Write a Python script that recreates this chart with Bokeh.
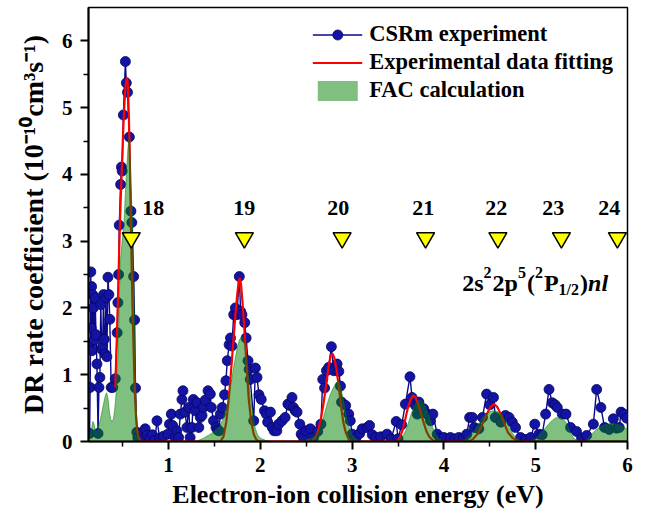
from bokeh.plotting import figure
from bokeh.models import Range1d, FixedTicker, Legend, LegendItem, Label
from bokeh.embed import file_html
from bokeh.resources import INLINE
from bokeh.core.properties import value

# ---------------- data ----------------
exp_e = [0.140, 0.146, 0.150, 0.153, 0.157, 0.162, 0.167, 0.172, 0.180, 0.190,
         0.200, 0.210, 0.220, 0.232, 0.242, 0.252, 0.262, 0.272, 0.282, 0.292,
         0.300, 0.308, 0.318, 0.328, 0.340, 0.350, 0.360, 0.375, 0.392, 0.420,
         0.440, 0.448, 0.456, 0.463, 0.478, 0.487, 0.495, 0.508, 0.530, 0.540,
         0.553, 0.573, 0.590, 0.600, 0.620, 0.630, 0.640, 0.655, 0.665, 0.700,
         0.725, 0.746, 0.765, 0.795, 0.825, 0.850, 0.874, 0.905, 0.945, 0.993,
         1.010, 1.030, 1.045, 1.070, 1.090, 1.110, 1.128, 1.146, 1.157, 1.180,
         1.200, 1.220, 1.235, 1.255, 1.270, 1.290, 1.310, 1.330, 1.346, 1.365,
         1.380, 1.400, 1.430, 1.455, 1.466, 1.490, 1.517, 1.535, 1.550, 1.564,
         1.585, 1.610, 1.625, 1.640, 1.660, 1.675, 1.690, 1.710, 1.728, 1.745,
         1.771, 1.785, 1.800, 1.830, 1.845, 1.866, 1.878, 1.890, 1.928, 1.946,
         1.964, 1.985, 2.010, 2.045, 2.066, 2.080, 2.110, 2.130, 2.150, 2.180,
         2.200, 2.236, 2.270, 2.300, 2.320, 2.345, 2.360, 2.380, 2.400, 2.430,
         2.445, 2.470, 2.500, 2.545, 2.580, 2.625, 2.660, 2.680, 2.700, 2.720,
         2.745, 2.774, 2.800, 2.836, 2.855, 2.873, 2.885, 2.930, 2.963, 2.980,
         3.000, 3.040, 3.083, 3.110, 3.163, 3.190, 3.220, 3.255, 3.310, 3.380,
         3.425, 3.480, 3.500, 3.540, 3.580, 3.630, 3.653, 3.690, 3.710, 3.727,
         3.745, 3.780, 3.818, 3.854, 3.880, 3.927, 3.960, 4.000, 4.070, 4.120,
         4.163, 4.210, 4.250, 4.280, 4.310, 4.330, 4.380, 4.420, 4.465, 4.500,
         4.540, 4.560, 4.620, 4.670, 4.710, 4.745, 4.780, 4.835, 4.890, 4.945,
         4.990, 5.035, 5.070, 5.108, 5.145, 5.180, 5.210, 5.235, 5.290, 5.330,
         5.380, 5.445, 5.500, 5.555, 5.628, 5.664, 5.710, 5.750, 5.800, 5.846,
         5.880, 5.910, 5.930, 5.960, 5.990]
exp_r = [0.12, 0.81, 1.45, 2.54, 1.70, 2.32, 1.36, 2.20, 2.00, 1.52,
         2.15, 1.60, 1.16, 0.12, 0.81, 0.96, 2.05, 1.38, 1.43, 2.20,
         1.53, 1.31, 2.15, 1.27, 2.46, 2.20, 1.83, 0.81, 0.81, 0.94,
         1.63, 2.08, 2.50, 3.24, 3.85, 4.11, 4.05, 4.89, 5.69, 5.37,
         5.23, 4.56, 3.45, 3.28, 2.47, 1.82, 0.80, 0.14, 0.06, 0.11,
         0.05, 0.19, 0.09, 0.04, 0.10, 0.02, 0.31, 0.05, 0.08, 0.11,
         0.26, 0.41, 0.24, 0.06, 0.16, 0.06, 0.41, 0.63, 0.76, 0.44,
         0.21, 0.51, 0.06, 0.21, 0.63, 0.46, 0.58, 0.21, 0.36, 0.39,
         0.51, 0.62, 0.76, 0.71, 0.51, 0.31, 0.21, 0.17, 0.16, 0.41,
         0.51, 0.70, 0.91, 1.21, 1.45, 1.55, 1.43, 1.90, 2.00, 1.90,
         2.47, 1.95, 1.90, 1.78, 1.55, 1.21, 1.08, 0.93, 0.31, 1.10,
         0.96, 0.70, 0.63, 0.46, 0.41, 0.29, 0.44, 0.21, 0.16, 0.16,
         0.26, 0.31, 0.36, 0.56, 0.54, 0.66, 0.51, 0.46, 0.44, 0.26,
         0.11, 0.06, 0.16, 0.19, 0.06, 0.15, 0.26, 0.93, 0.80, 1.06,
         1.11, 1.42, 1.06, 1.16, 1.05, 0.83, 0.59, 0.54, 0.41, 0.31,
         0.11, 0.05, 0.12, 0.19, 0.21, 0.24, 0.10, 0.06, 0.07, 0.11,
         0.04, 0.30, 0.04, 0.25, 0.56, 0.97, 0.66, 0.54, 0.41, 0.59,
         0.51, 0.49, 0.41, 0.31, 0.41, 0.11, 0.05, 0.06, 0.06, 0.04,
         0.06, 0.05, 0.11, 0.36, 0.36, 0.21, 0.19, 0.36, 0.71, 0.55,
         0.66, 0.36, 0.29, 0.39, 0.36, 0.29, 0.21, 0.06, 0.03, 0.06,
         0.26, 0.11, 0.10, 0.41, 0.78, 0.58, 0.55, 0.51, 0.41, 0.41,
         0.21, 0.15, 0.05, 0.09, 0.26, 0.78, 0.51, 0.21, 0.18, 0.34,
         0.20, 0.21, 0.44, 0.41, 0.35]

fit_e = [0.420, 0.438, 0.450, 0.463, 0.476, 0.490, 0.503, 0.517, 0.530, 0.542,
         0.550, 0.558, 0.566, 0.575, 0.583, 0.591, 0.600, 0.610, 0.620, 0.628,
         0.637, 0.648, 0.660, 0.674, 0.690, 0.710,
         1.565, 1.600, 1.630, 1.660, 1.690, 1.720, 1.745, 1.762, 1.775, 1.790,
         1.805, 1.830, 1.850, 1.873, 1.900, 1.930, 1.960, 1.990,
         2.560, 2.600, 2.630, 2.660, 2.690, 2.720, 2.745, 2.765, 2.785, 2.805,
         2.830, 2.855, 2.880, 2.905, 2.930, 2.960, 2.990,
         3.490, 3.520, 3.550, 3.580, 3.610, 3.640, 3.665, 3.690, 3.720, 3.750,
         3.780, 3.810, 3.840, 3.880, 3.920,
         4.270, 4.320, 4.370, 4.420, 4.470, 4.510, 4.545, 4.580, 4.620, 4.660,
         4.700, 4.750, 4.800, 4.840, 6.000]
fit_r = [0.81, 1.60, 2.20, 2.90, 3.50, 4.05, 4.55, 5.00, 5.30, 5.43,
         5.45, 5.30, 4.95, 4.45, 3.85, 3.15, 2.50, 1.85, 1.36, 0.95,
         0.61, 0.32, 0.15, 0.06, 0.02, 0.00,
         0.00, 0.08, 0.30, 0.70, 1.21, 1.75, 2.15, 2.38, 2.45, 2.35,
         2.10, 1.60, 1.15, 0.65, 0.30, 0.10, 0.02, 0.00,
         0.00, 0.06, 0.16, 0.34, 0.58, 0.88, 1.13, 1.28, 1.32, 1.26,
         1.08, 0.82, 0.52, 0.28, 0.14, 0.04, 0.00,
         0.00, 0.06, 0.17, 0.34, 0.52, 0.64, 0.69, 0.66, 0.56, 0.42,
         0.28, 0.15, 0.07, 0.02, 0.00,
         0.00, 0.04, 0.12, 0.26, 0.42, 0.52, 0.56, 0.52, 0.41, 0.26,
         0.13, 0.05, 0.01, 0.00, 0.00]

fac_e = [0.128, 0.145, 0.160, 0.175, 0.185, 0.200, 0.210, 0.230, 0.260, 0.290,
         0.310, 0.325, 0.340, 0.355, 0.370, 0.385, 0.400, 0.415, 0.430, 0.445,
         0.455, 0.465, 0.478, 0.495, 0.515, 0.540, 0.558, 0.570, 0.582, 0.595,
         0.610, 0.620, 0.628, 0.636, 0.644, 0.652, 0.662, 0.675, 0.695, 0.720,
         1.300, 1.380, 1.455, 1.520, 1.560, 1.600, 1.640, 1.670, 1.690, 1.720,
         1.745, 1.770, 1.800, 1.820, 1.840, 1.860, 1.875, 1.890, 1.910, 1.930,
         1.945, 1.970, 2.000, 2.070, 2.100,
         2.420, 2.500, 2.560, 2.600, 2.640, 2.670, 2.700, 2.730, 2.760, 2.790,
         2.820, 2.850, 2.870, 2.890, 2.910, 2.930, 2.950, 2.970, 3.000, 3.030,
         3.070, 3.100,
         3.470, 3.510, 3.540, 3.565, 3.595, 3.620, 3.645, 3.670, 3.700, 3.740,
         3.770, 3.800, 3.830, 3.855, 3.880, 3.910, 3.940, 3.980, 4.000,
         4.180, 4.220, 4.280, 4.330, 4.380, 4.420, 4.470, 4.530, 4.580, 4.620,
         4.670, 4.710, 4.750, 4.780, 4.820, 4.860,
         4.930, 4.970, 5.020, 5.060, 5.110, 5.160, 5.210, 5.250, 5.290, 5.330,
         5.360, 5.390, 5.420, 5.460, 5.500,
         5.530, 5.580, 5.630, 5.680, 5.740, 5.800, 5.850, 5.900, 5.950, 6.000]
fac_r = [0.00, 0.06, 0.18, 0.30, 0.28, 0.18, 0.14, 0.18, 0.35, 0.55,
         0.68, 0.73, 0.65, 0.45, 0.33, 0.30, 0.34, 0.50, 0.75, 1.15,
         1.60, 2.25, 2.75, 3.00, 3.30, 4.00, 4.40, 4.55, 4.25, 3.70,
         3.20, 2.50, 1.80, 1.20, 0.70, 0.38, 0.18, 0.07, 0.02, 0.00,
         0.00, 0.05, 0.11, 0.17, 0.23, 0.36, 0.56, 0.78, 0.95, 1.20,
         1.38, 1.52, 1.57, 1.50, 1.34, 1.12, 0.90, 0.70, 0.50, 0.30,
         0.20, 0.10, 0.05, 0.01, 0.00,
         0.00, 0.02, 0.05, 0.09, 0.17, 0.28, 0.42, 0.57, 0.70, 0.79,
         0.87, 0.91, 0.85, 0.72, 0.58, 0.42, 0.30, 0.20, 0.10, 0.05,
         0.01, 0.00,
         0.00, 0.02, 0.06, 0.11, 0.20, 0.31, 0.42, 0.51, 0.58, 0.62,
         0.58, 0.51, 0.41, 0.31, 0.20, 0.11, 0.05, 0.01, 0.00,
         0.00, 0.02, 0.08, 0.16, 0.26, 0.36, 0.43, 0.46, 0.45, 0.41,
         0.31, 0.21, 0.12, 0.06, 0.02, 0.00,
         0.00, 0.02, 0.07, 0.13, 0.21, 0.29, 0.35, 0.36, 0.34, 0.29,
         0.19, 0.10, 0.04, 0.01, 0.00,
         0.00, 0.06, 0.14, 0.20, 0.24, 0.27, 0.27, 0.25, 0.22, 0.18]

series_n = ["18", "19", "20", "21", "22", "23", "24"]
series_marker_e = [0.594, 1.826, 2.891, 3.800, 4.588, 5.280, 5.890]
series_label_e = [0.834, 1.826, 2.850, 3.775, 4.570, 5.190, 5.800]
marker_level = 3.05
label_level = 3.50

x_ticks = [1, 2, 3, 4, 5, 6]
x_minor = [0.5, 1.5, 2.5, 3.5, 4.5, 5.5]
y_ticks = [0, 1, 2, 3, 4, 5, 6]
y_minor = [0.5, 1.5, 2.5, 3.5, 4.5, 5.5]

FONT = "Liberation Serif"

# ---------------- figure ----------------
p = figure(width=637, height=512, output_backend="svg", toolbar_location=None,
           x_range=Range1d(0.128, 6.0), y_range=Range1d(0, 6.5),
           min_border_left=88, min_border_right=10, min_border_top=7,
           min_border_bottom=71)
p.grid.visible = False
p.outline_line_color = "black"
p.outline_line_width = 1.5
p.background_fill_color = "white"
p.border_fill_color = "white"

exp_line = p.line(exp_e, exp_r, line_color="#0a0a8a", line_width=1.4)
exp_pts = p.scatter(exp_e, exp_r, size=10, fill_color="#1414a4",
                    line_color="#06065e", line_width=0.8)
fit_line = p.line(fit_e, fit_r, line_color="red", line_width=2.2)
fac_area = p.varea(x=fac_e, y1=0, y2=fac_r, fill_color="green", fill_alpha=0.5)
p.line(fac_e, fac_r, line_color="green", line_alpha=0.5, line_width=1)

p.scatter(x=series_marker_e, y=[marker_level] * len(series_marker_e),
          marker="inverted_triangle", size=18, fill_color="yellow",
          line_color="black", line_width=1.5)
p.text(x=series_label_e, y=[label_level] * len(series_label_e), text=series_n,
       text_font=value(FONT), text_font_style="bold", text_font_size="22px",
       text_align="center", text_baseline="middle", text_color="black")

# axes
for ax in (p.xaxis[0], p.yaxis[0]):
    ax.axis_line_width = 2
    ax.axis_line_color = "black"
    ax.major_tick_line_width = 2
    ax.minor_tick_line_width = 1.5
    ax.major_tick_in = 0
    ax.major_tick_out = 8
    ax.minor_tick_in = 0
    ax.minor_tick_out = 5
    ax.major_label_text_font = FONT
    ax.major_label_text_font_style = "bold"
    ax.major_label_text_font_size = "21px"
    ax.major_label_text_color = "black"
    ax.axis_label_text_font = FONT
    ax.axis_label_text_font_style = "bold"
    ax.axis_label_text_color = "black"

p.xaxis.axis_label_text_font_size = "26px"
p.yaxis.axis_label_text_font_size = "28px"
p.xaxis.ticker = FixedTicker(ticks=x_ticks, minor_ticks=x_minor)
p.yaxis.ticker = FixedTicker(ticks=y_ticks, minor_ticks=y_minor)
p.xaxis.axis_label = "Electron-ion collision energy (eV)"
p.yaxis.axis_label = "DR rate coefficient (10\u207b\u00b9\u2070cm\u00b3s\u207b\u00b9)"
p.xaxis.major_label_standoff = 8
p.yaxis.major_label_standoff = 8
p.xaxis.axis_label_standoff = 5
p.yaxis.axis_label_standoff = 10

# legend
legend = Legend(items=[
    LegendItem(label="CSRm experiment", renderers=[exp_line, exp_pts]),
    LegendItem(label="Experimental data fitting", renderers=[fit_line]),
    LegendItem(label="FAC calculation", renderers=[fac_area]),
], location="top_right")
legend.border_line_color = None
legend.background_fill_alpha = 0
legend.margin = 14
legend.padding = 13
legend.spacing = 2
legend.glyph_width = 50
legend.glyph_height = 25
legend.label_height = 25
legend.label_standoff = 7
legend.label_text_font = FONT
legend.label_text_font_style = "bold"
legend.label_text_font_size = "22.5px"
legend.label_text_color = "black"
p.add_layout(legend)

# configuration annotation 2s^2 2p^5 (^2P_1/2) nl
TB = {'2': 500, 's': 389, 'p': 556, '5': 500, '(': 333, 'P': 611,
      '1': 500, '/': 278, ')': 333, 'n': 556, 'l': 278}
F, S = 24, 16
pieces = [("2s", F, "bold", 0), ("2", S, "bold", 10), ("2p", F, "bold", 0),
          ("5", S, "bold", 10), ("(", F, "bold", 0), ("2", S, "bold", 10),
          ("P", F, "bold", 0), ("1/2", S, "bold", -7), (")", F, "bold", 0),
          ("nl", F, "bold italic", 0)]
xoff = 0.0
for txt, size, style, rise in pieces:
    p.add_layout(Label(x=4.20, y=2.38, x_offset=xoff, y_offset=rise, text=txt,
                       text_font=FONT, text_font_style=style,
                       text_font_size=f"{size}px", text_baseline="alphabetic",
                       text_align="left", text_color="black"))
    xoff += sum(TB[c] for c in txt) / 1000.0 * size + (1 if size == S else 0)

open("out.html", "w").write(file_html(p, INLINE))
